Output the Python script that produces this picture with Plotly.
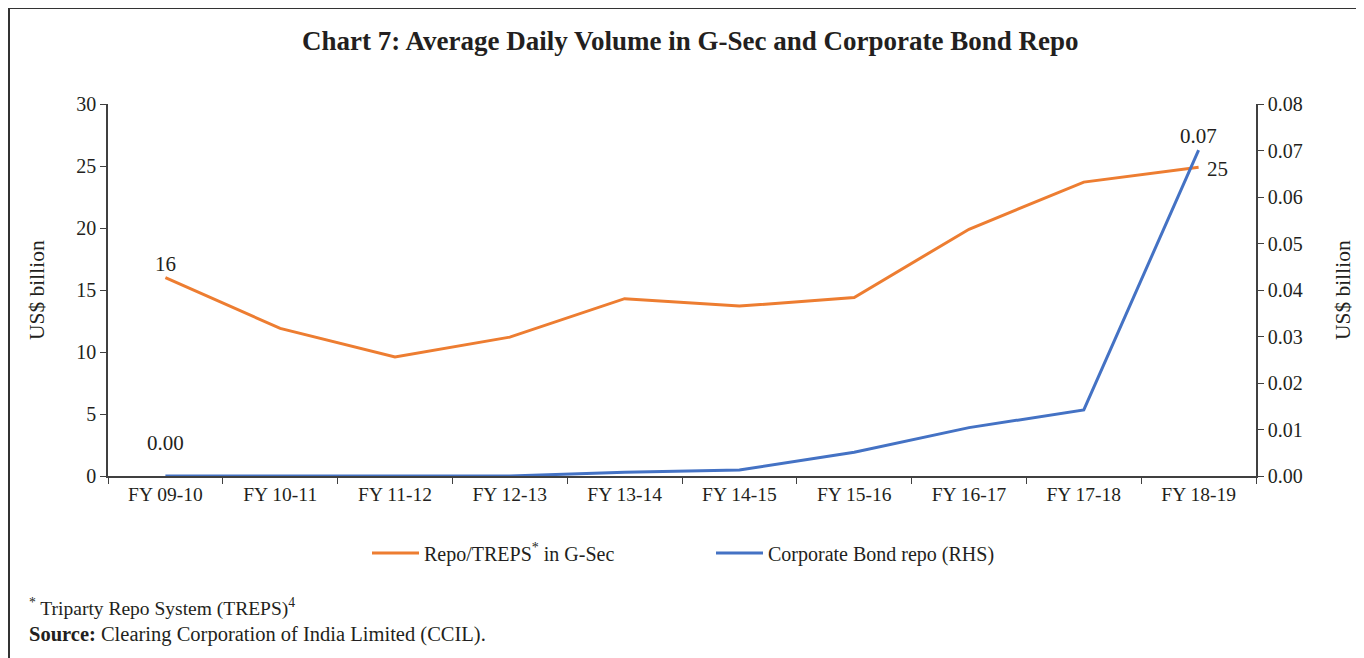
import plotly.graph_objects as go

categories = ["FY 09-10", "FY 10-11", "FY 11-12", "FY 12-13", "FY 13-14",
              "FY 14-15", "FY 15-16", "FY 16-17", "FY 17-18", "FY 18-19"]
repo_gsec = [16.0, 11.9, 9.6, 11.2, 14.3, 13.7, 14.4, 19.9, 23.7, 24.9]
corp_bond_repo = [0.0, 0.0, 0.0, 0.0, 0.0008, 0.0013, 0.0051, 0.0104, 0.0142, 0.0701]

# page body has an 8px margin; work in reference page pixels and convert
OFF = 8
PAGE_W, PAGE_H = 1364, 658
W, H = PAGE_W - OFF, PAGE_H - OFF
PL, PR, PT, PB = 108, 1256, 104, 476          # plot area in page pixels
L, R, T, B = PL - OFF, PAGE_W - PR, PT - OFF, PAGE_H - PB
PW, PH = PR - PL, PB - PT

def px(x):
    return (x - PL) / PW

def py(y):
    return (PB - y) / PH

FONT = "Liberation Serif"
TXT = "#231f20"
AX = "#404040"
ORANGE = "#ED7D31"
BLUE = "#4472C4"

fig = go.Figure()
fig.add_trace(go.Scatter(x=categories, y=repo_gsec, mode="lines",
                         name="Repo/TREPS<sup>*</sup> in G-Sec",
                         line=dict(color=ORANGE, width=3), yaxis="y"))
fig.add_trace(go.Scatter(x=categories, y=corp_bond_repo, mode="lines",
                         name="Corporate Bond repo (RHS)",
                         line=dict(color=BLUE, width=3), yaxis="y2"))

ann = []
ann.append(dict(text="<b>Chart 7: Average Daily Volume in G-Sec and Corporate Bond Repo</b>",
                x=px(690), y=py(41), xref="paper", yref="paper", showarrow=False,
                xanchor="center", yanchor="middle", font=dict(family=FONT, size=27, color=TXT)))
ann.append(dict(text="US$ billion", x=px(37), y=py(290), xref="paper", yref="paper",
                showarrow=False, textangle=-90, xanchor="center", yanchor="middle",
                font=dict(family=FONT, size=21.5, color=TXT)))
ann.append(dict(text="US$ billion", x=px(1343), y=py(290), xref="paper", yref="paper",
                showarrow=False, textangle=-90, xanchor="center", yanchor="middle",
                font=dict(family=FONT, size=21.5, color=TXT)))
ann.append(dict(text=f"{repo_gsec[0]:.0f}", x=categories[0], y=repo_gsec[0], xref="x", yref="y",
                showarrow=False, yshift=14, font=dict(family=FONT, size=21, color=TXT)))
ann.append(dict(text=f"{corp_bond_repo[0]:.2f}", x=categories[0], y=corp_bond_repo[0], xref="x", yref="y2",
                showarrow=False, yshift=33, font=dict(family=FONT, size=21, color=TXT)))
ann.append(dict(text=f"{corp_bond_repo[-1]:.2f}", x=categories[-1], y=corp_bond_repo[-1], xref="x", yref="y2",
                showarrow=False, yshift=14, font=dict(family=FONT, size=21, color=TXT)))
ann.append(dict(text=f"{repo_gsec[-1]:.0f}", x=categories[-1], y=repo_gsec[-1], xref="x", yref="y",
                showarrow=False, xshift=19, yshift=-2, font=dict(family=FONT, size=21, color=TXT)))
ann.append(dict(text="<sup>*</sup> Triparty Repo System (TREPS)<sup>4</sup>", x=px(27), y=py(607),
                xref="paper", yref="paper", showarrow=False, xanchor="left", yanchor="middle",
                font=dict(family=FONT, size=19.5, color=TXT)))
ann.append(dict(text="<b>Source:</b> Clearing Corporation of India Limited (CCIL).", x=px(27), y=py(634),
                xref="paper", yref="paper", showarrow=False, xanchor="left", yanchor="middle",
                font=dict(family=FONT, size=20.5, color=TXT)))

shapes = [
    dict(type="line", xref="paper", yref="paper", x0=px(9), x1=px(PAGE_W + 5), y0=py(8), y1=py(8),
         line=dict(color="#333333", width=2)),
    dict(type="line", xref="paper", yref="paper", x0=px(9), x1=px(9), y0=py(8), y1=py(PAGE_H + 5),
         line=dict(color="#333333", width=2)),
]

fig.update_layout(
    width=W, height=H,
    margin=dict(l=L, r=R, t=T, b=B, pad=0),
    paper_bgcolor="white", plot_bgcolor="white",
    font=dict(family=FONT, size=19.5, color=TXT),
    showlegend=True,
    legend=dict(orientation="h", x=px(367), xanchor="left", y=py(553), yanchor="middle",
                font=dict(family=FONT, size=20, color=TXT),
                entrywidth=282, entrywidthmode="pixels", itemwidth=47,
                bgcolor="rgba(0,0,0,0)"),
    xaxis=dict(type="category", range=[-0.5, len(categories) - 0.5], showgrid=False,
               showline=True, linecolor=AX, linewidth=1.5, ticks="outside", tickson="boundaries",
               ticklen=6, tickcolor=AX, tickfont=dict(family=FONT, size=19.5, color=TXT),
               zeroline=False),
    yaxis=dict(range=[0, 30], dtick=5, showgrid=False, showline=True, linecolor=AX, linewidth=1.5,
               ticks="outside", ticklen=6, tickcolor=AX, zeroline=False,
               tickfont=dict(family=FONT, size=20, color=TXT)),
    yaxis2=dict(range=[0, 0.08], dtick=0.01, tickformat=".2f", overlaying="y", side="right",
                showgrid=False, showline=True, linecolor=AX, linewidth=1.5, ticks="outside",
                ticklen=6, tickcolor=AX, zeroline=False,
                tickfont=dict(family=FONT, size=20, color=TXT)),
    annotations=ann,
    shapes=shapes,
)

fig.write_html("out.html")
